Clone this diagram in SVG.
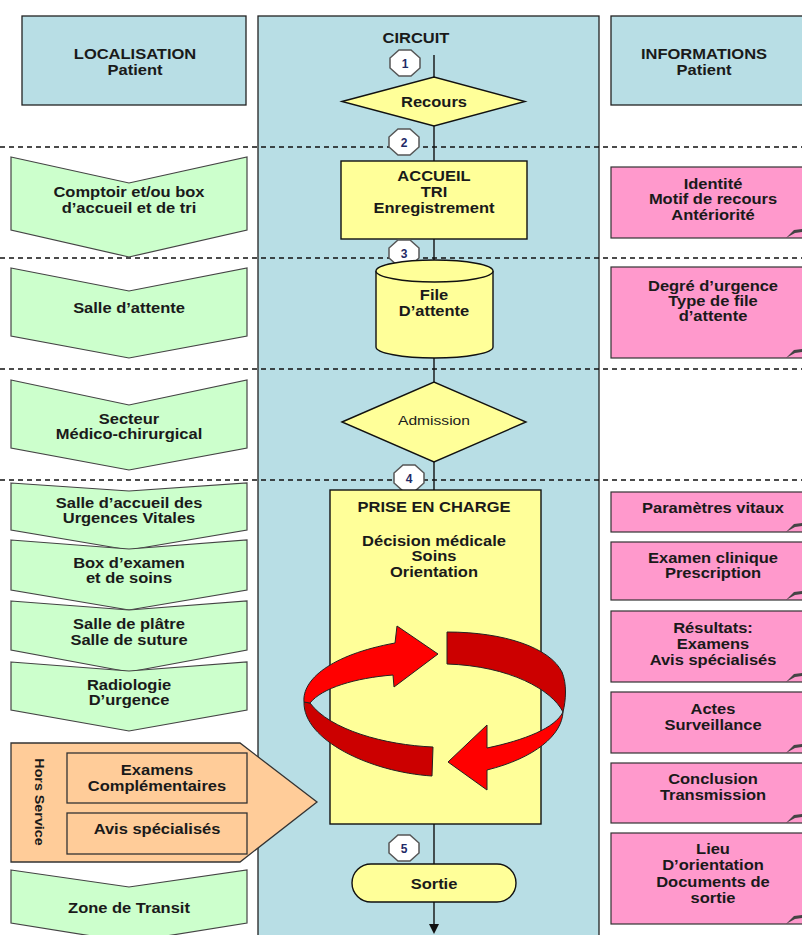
<svg xmlns="http://www.w3.org/2000/svg" xmlns:xlink="http://www.w3.org/1999/xlink" width="802" height="935" viewBox="0 0 802 935">
<style>
.t{font-family:"Liberation Sans",Arial,sans-serif;font-weight:bold;font-size:15px;fill:#1a1a1a;text-anchor:middle}
.n{font-family:"Liberation Sans",Arial,sans-serif;font-weight:bold;font-size:12px;fill:#1f2a66;text-anchor:middle}
.hdr{fill:#b8dee5;stroke:#222;stroke-width:1.3}
.grn{fill:#ccffcc;stroke:#444;stroke-width:1.2}
.pnk{fill:#ff99cc;stroke:#333;stroke-width:1.2}
.yel{fill:#ffff99;stroke:#111;stroke-width:1.4}
.org{fill:#ffcc99;stroke:#333;stroke-width:1.3}
.dash{stroke:#111;stroke-width:1.3;stroke-dasharray:5 4;fill:none}
.flow{stroke:#111;stroke-width:1.4;fill:none}
.curl{fill:#444}
.rb{fill:#ff0000;stroke:#222;stroke-width:1}
.rd{fill:#cc0000;stroke:#222;stroke-width:1}
</style>
<defs>
<polygon id="oct" points="-6,-13 6,-13 15,-5 15,5 6,13 -6,13 -15,5 -15,-5" fill="#fff" stroke="#555" stroke-width="1.5"/>
<path id="curl" d="M-16,0 L-8,-8 L0,-9 L0,-6 L-7,-5 Z"/>
<marker id="arr" markerWidth="10" markerHeight="10" refX="5" refY="9" orient="auto" markerUnits="userSpaceOnUse" viewBox="0 0 10 10">
<path d="M0,0 L10,0 L5,9 Z" fill="#111"/>
</marker>
</defs>
<rect width="802" height="935" fill="#ffffff"/>

<g id="col-localisation">
<rect class="hdr" x="22" y="16" width="224" height="89"/>
<text class="t" transform="translate(135,59) scale(1.1,1)"><tspan x="0" y="0">LOCALISATION</tspan><tspan x="0" y="16">Patient</tspan></text>
</g>
<g id="col-circuit">
<rect class="hdr" x="258" y="16" width="341" height="930"/>
<text class="t" transform="translate(416,43) scale(1.1,1)">CIRCUIT</text>
</g>
<g id="col-informations">
<rect class="hdr" x="611" y="16" width="205" height="89"/>
<text class="t" transform="translate(704,59) scale(1.1,1)"><tspan x="0" y="0">INFORMATIONS</tspan><tspan x="0" y="16">Patient</tspan></text>
</g>

<g id="separators">
<line class="dash" x1="0" y1="147" x2="802" y2="147"/>
<line class="dash" x1="0" y1="258" x2="802" y2="258"/>
<line class="dash" x1="0" y1="369" x2="802" y2="369"/>
<line class="dash" x1="0" y1="480" x2="802" y2="480"/>
</g>

<g id="connectors">
<line class="flow" x1="434" y1="55" x2="434" y2="77"/>
<line class="flow" x1="434" y1="126" x2="434" y2="161"/>
<line class="flow" x1="434" y1="239" x2="434" y2="261"/>
<line class="flow" x1="434" y1="358" x2="434" y2="382"/>
<line class="flow" x1="434" y1="462" x2="434" y2="490"/>
<line class="flow" x1="434" y1="824" x2="434" y2="864"/>
<line class="flow" x1="434" y1="902" x2="434" y2="926"/>
<path d="M429,924 L439,924 L434,934 Z" fill="#111"/>
</g>

<!-- left column -->
<g id="loc-comptoir">
<polygon class="grn" points="11,157 129,183 247,157 247,230 129,257 11,230"/>
<text class="t" transform="translate(129,197) scale(1.1,1)"><tspan x="0" y="0">Comptoir et/ou box</tspan><tspan x="0" y="16.5">d’accueil et de tri</tspan></text>
</g>
<g id="loc-salle-attente">
<polygon class="grn" points="11,268 129,291 247,268 247,336 129,358 11,336"/>
<text class="t" transform="translate(129,312.5) scale(1.1,1)">Salle d’attente</text>
</g>
<g id="loc-secteur">
<polygon class="grn" points="11,380 129,405 247,380 247,448 129,470 11,448"/>
<text class="t" transform="translate(129,423.5) scale(1.1,1)"><tspan x="0" y="0">Secteur</tspan><tspan x="0" y="16">Médico-chirurgical</tspan></text>
</g>
<g id="loc-suv">
<polygon class="grn" points="11,483 129,491 247,483 247,530 129,550 11,530"/>
<text class="t" transform="translate(129,507.5) scale(1.1,1)"><tspan x="0" y="0">Salle d’accueil des</tspan><tspan x="0" y="16">Urgences Vitales</tspan></text>
</g>
<g id="loc-box">
<polygon class="grn" points="11,540 129,549 247,540 247,590 129,610 11,590"/>
<text class="t" transform="translate(129,567.5) scale(1.1,1)"><tspan x="0" y="0">Box d’examen</tspan><tspan x="0" y="16">et de soins</tspan></text>
</g>
<g id="loc-platre">
<polygon class="grn" points="11,601 129,610 247,601 247,650 129,672 11,650"/>
<text class="t" transform="translate(129,628.5) scale(1.1,1)"><tspan x="0" y="0">Salle de plâtre</tspan><tspan x="0" y="16.5">Salle de suture</tspan></text>
</g>
<g id="loc-radio">
<polygon class="grn" points="11,662 129,671 247,662 247,710 129,731 11,710"/>
<text class="t" transform="translate(129,689.5) scale(1.1,1)"><tspan x="0" y="0">Radiologie</tspan><tspan x="0" y="16">D’urgence</tspan></text>
</g>
<g id="loc-hors-service">
<polygon class="org" points="11,743 240,743 317,802 240,862 11,862"/>
<text class="t" style="font-size:13px" transform="translate(35,802) rotate(90) scale(1.1,1)">Hors Service</text>
<rect class="org" x="67" y="753" width="180" height="50"/>
<text class="t" transform="translate(157,774.5) scale(1.1,1)"><tspan x="0" y="0">Examens</tspan><tspan x="0" y="16.5">Complémentaires</tspan></text>
<rect class="org" x="67" y="813" width="180" height="41"/>
<text class="t" transform="translate(157,833.5) scale(1.1,1)">Avis spécialisés</text>
</g>
<g id="loc-transit">
<polygon class="grn" points="11,870 129,887 247,870 247,923 129,942 11,923"/>
<text class="t" transform="translate(129,912.5) scale(1.1,1)">Zone de Transit</text>
</g>

<!-- circuit -->
<g id="step1">
<use xlink:href="#oct" x="405" y="63"/>
<text class="n" x="405" y="67.5">1</text>
</g>
<g id="recours">
<polygon class="yel" points="342,101.5 434,77 525,101.5 434,126"/>
<text class="t" transform="translate(434,107) scale(1.1,1)">Recours</text>
</g>
<g id="step2">
<use xlink:href="#oct" x="404" y="142"/>
<text class="n" x="404" y="146.5">2</text>
</g>
<g id="accueil">
<rect class="yel" x="341" y="161" width="186" height="78"/>
<text class="t" transform="translate(434,180.5) scale(1.1,1)"><tspan x="0" y="0">ACCUEIL</tspan><tspan x="0" y="16.5">TRI</tspan><tspan x="0" y="33">Enregistrement</tspan></text>
</g>
<g id="step3">
<use xlink:href="#oct" x="404" y="253"/>
<text class="n" x="404" y="257.5">3</text>
</g>
<g id="file-attente">
<path class="yel" d="M376,271 A58.5,11 0 0 1 493,271 L493,347 A58.5,11 0 0 1 376,347 Z"/>
<path class="yel" d="M376,271 A58.5,11 0 0 0 493,271" fill="none"/>
<text class="t" transform="translate(434,299.5) scale(1.1,1)"><tspan x="0" y="0">File</tspan><tspan x="0" y="17">D’attente</tspan></text>
</g>
<g id="admission">
<polygon class="yel" points="342,422 434,382 526,422 434,462"/>
<text class="t" style="font-weight:normal;font-size:13px" transform="translate(434,424.5) scale(1.2,1)">Admission</text>
</g>
<g id="step4">
<use xlink:href="#oct" x="409" y="478"/>
<text class="n" x="409" y="482.5">4</text>
</g>
<g id="prise-en-charge">
<rect class="yel" x="330" y="490" width="211" height="334"/>
<text class="t" transform="translate(434,511.5) scale(1.1,1)">PRISE EN CHARGE</text>
<text class="t" transform="translate(434,545.5) scale(1.1,1)"><tspan x="0" y="0">Décision médicale</tspan><tspan x="0" y="16">Soins</tspan><tspan x="0" y="32">Orientation</tspan></text>
</g>
<g id="cycle">
<path class="rd" d="M447,632 C505,632 550,648 562,672 C567,684 566,700 563,712 C552,690 510,666 447,664 Z"/>
<path class="rd" d="M433,747 C385,745 330,730 310,703 L304,702 C303,740 370,772 432,776 Z"/>
<path class="rb" d="M304,702 C302,680 330,655 395,643 L397,626 L438,654 L394,687 L393,675 C355,678 322,688 310,703 Z"/>
<path class="rb" d="M563,712 C562,735 535,758 487,770 L487,790 L448,762 L487,725 L487,748 C525,740 555,728 563,712 Z"/>
</g>
<g id="step5">
<use xlink:href="#oct" x="404" y="848"/>
<text class="n" x="404" y="852.5">5</text>
</g>
<g id="sortie">
<rect class="yel" x="352" y="864" width="164" height="38" rx="19" ry="19"/>
<text class="t" transform="translate(434,888.5) scale(1.1,1)">Sortie</text>
</g>

<!-- informations -->
<g id="info-identite">
<rect class="pnk" x="611" y="167" width="205" height="71"/>
<use xlink:href="#curl" class="curl" x="802" y="238"/>
<text class="t" transform="translate(713,188.5) scale(1.1,1)"><tspan x="0" y="0">Identité</tspan><tspan x="0" y="16">Motif de recours</tspan><tspan x="0" y="32">Antériorité</tspan></text>
</g>
<g id="info-degre">
<rect class="pnk" x="611" y="267" width="205" height="91"/>
<use xlink:href="#curl" class="curl" x="802" y="358"/>
<text class="t" transform="translate(713,290.5) scale(1.1,1)"><tspan x="0" y="0">Degré d’urgence</tspan><tspan x="0" y="15.5">Type de file</tspan><tspan x="0" y="31">d’attente</tspan></text>
</g>
<g id="info-parametres">
<rect class="pnk" x="611" y="492" width="205" height="40"/>
<use xlink:href="#curl" class="curl" x="802" y="532"/>
<text class="t" transform="translate(713,512.5) scale(1.1,1)">Paramètres vitaux</text>
</g>
<g id="info-examen">
<rect class="pnk" x="611" y="542" width="205" height="58"/>
<use xlink:href="#curl" class="curl" x="802" y="600"/>
<text class="t" transform="translate(713,562.5) scale(1.1,1)"><tspan x="0" y="0">Examen clinique</tspan><tspan x="0" y="16">Prescription</tspan></text>
</g>
<g id="info-resultats">
<rect class="pnk" x="611" y="611" width="205" height="71"/>
<use xlink:href="#curl" class="curl" x="802" y="682"/>
<text class="t" transform="translate(713,632.5) scale(1.1,1)"><tspan x="0" y="0">Résultats:</tspan><tspan x="0" y="16.5">Examens</tspan><tspan x="0" y="33">Avis spécialisés</tspan></text>
</g>
<g id="info-actes">
<rect class="pnk" x="611" y="692" width="205" height="61"/>
<use xlink:href="#curl" class="curl" x="802" y="753"/>
<text class="t" transform="translate(713,713.5) scale(1.1,1)"><tspan x="0" y="0">Actes</tspan><tspan x="0" y="17">Surveillance</tspan></text>
</g>
<g id="info-conclusion">
<rect class="pnk" x="611" y="763" width="205" height="60"/>
<use xlink:href="#curl" class="curl" x="802" y="823"/>
<text class="t" transform="translate(713,783.5) scale(1.1,1)"><tspan x="0" y="0">Conclusion</tspan><tspan x="0" y="17">Transmission</tspan></text>
</g>
<g id="info-lieu">
<rect class="pnk" x="611" y="833" width="205" height="91"/>
<use xlink:href="#curl" class="curl" x="802" y="924"/>
<text class="t" transform="translate(713,853.5) scale(1.1,1)"><tspan x="0" y="0">Lieu</tspan><tspan x="0" y="16.7">D’orientation</tspan><tspan x="0" y="33.4">Documents de</tspan><tspan x="0" y="50">sortie</tspan></text>
</g>
</svg>
